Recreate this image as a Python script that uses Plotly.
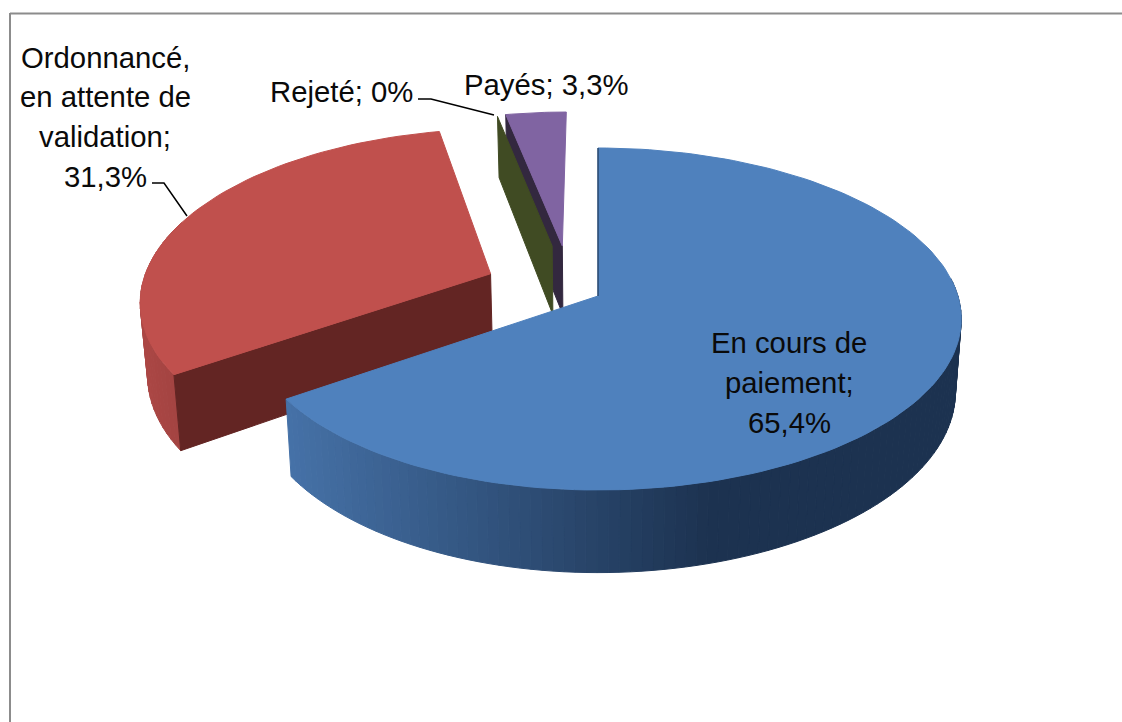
import numpy as np
import plotly.graph_objects as go

# --- data ---
categories = ["En cours de paiement", "Ordonnancé, en attente de validation", "Rejeté", "Payés"]
values = [65.4, 31.3, 0.0, 3.3]
label_lines = [
    ["En cours de", "paiement;", "65,4%"],
    ["Ordonnancé,", "en attente de", "validation;", "31,3%"],
    ["Rejeté; 0%"],
    ["Payés; 3,3%"],
]

# --- styles / layout ---
top_colors = ["#4F81BD", "#C0504D", "#4F6228", "#8064A2"]
explode = {0: (0.0, 0.0, 1.0), 1: (-0.31, -0.135, 1.015), 2: (-0.135, -0.31, 0.96), 3: (-0.105, -0.31, 0.975)}
CX, CY, A, B, KX, KY, QX, DEPTH = 598.0, 296.0, 354.5, 167.9, 0.1345, 0.1345, 0.015, 71.5
FONT = dict(family="Liberation Sans, Arial, sans-serif", size=29.3, color="#0a0a0a")
label_pos = [
    [(789, 342), (789, 382), (789, 422)],
    [(105, 57), (105, 96), (105, 136), (105, 176)],
    [(341, 91)],
    [(546, 84)],
]
leaders = [([152, 164, 187], [183, 183, 216]), ([418, 431, 494], [99, 99, 115])]


def project(u, v, depth=0.0):
    """Perspective projection of a point on the unit pie plane."""
    u, v = np.asarray(u, float), np.asarray(v, float)
    wx = 1 - KX * v - QX * u
    wy = 1 - KY * v
    shrink = 1 - 0.016 * depth
    x = CX + A * u / wx * shrink
    y = CY + B * v / wy + depth * DEPTH / wy
    return x, y


def mix(c1, c2, t):
    t = float(np.clip(t, 0, 1))
    return "rgb(%d,%d,%d)" % tuple(round(a + (b - a) * t) for a, b in zip(c1, c2))


def polygon(fig, x, y, color, lw=1.0):
    fig.add_trace(go.Scatter(x=list(x), y=list(y), mode="lines", fill="toself", fillcolor=color,
                             line=dict(color=color, width=lw), hoverinfo="skip", showlegend=False))


def wall(fig, u1, v1, u2, v2, color):
    x1, y1 = project(u1, v1)
    x2, y2 = project(u2, v2)
    x3, y3 = project(u2, v2, 1)
    x4, y4 = project(u1, v1, 1)
    polygon(fig, [x1, x2, x3, x4, x1], [y1, y2, y3, y4, y1], color)


fracs = np.array(values) / sum(values) * 2 * np.pi
ends = np.cumsum(fracs)
starts = ends - fracs


def arc(i, n):
    du, dv, r = explode[i]
    th = np.linspace(starts[i], ends[i], n)
    return du + r * np.sin(th), dv - r * np.cos(th), du, dv


fig = go.Figure()

# Purple (Payés)
u, v, u0, v0 = arc(3, 12)
wall(fig, u[0], v[0], u0, v0, "#33283F")
x, y = project(np.r_[u0, u, u0], np.r_[v0, v, v0])
polygon(fig, x, y, top_colors[3])

# Green (Rejeté): zero-width slice, only a wall shows
du, dv, r = explode[2]
u_g = du + r * np.sin(starts[2])
v_g = dv - r * np.cos(starts[2])
wall(fig, u_g, v_g, du, dv, "#404B23")

# Red (Ordonnancé)
u, v, u0, v0 = arc(1, 60)
for j in range(len(u) - 1):
    if (u[j] + u[j + 1]) / 2 < 0 and (v[j] + v[j + 1]) / 2 > -0.45:
        t = (project(u[j], v[j])[0] - 130) / 60
        wall(fig, u[j], v[j], u[j + 1], v[j + 1], mix((174, 72, 70), (160, 66, 64), t))
wall(fig, u[0], v[0], u0, v0, "#632523")
x, y = project(np.r_[u0, u, u0], np.r_[v0, v, v0])
polygon(fig, x, y, top_colors[1])

# Blue (En cours de paiement)
u, v, u0, v0 = arc(0, 150)
for j in range(len(u) - 1):
    if (v[j] + v[j + 1]) / 2 > -0.1:
        px = project(u[j], v[j])[0]
        t = (px - 285) / 430
        wall(fig, u[j], v[j], u[j + 1], v[j + 1], mix((70, 114, 168), (28, 50, 80), t))
x, y = project(np.r_[u0, u, u0], np.r_[v0, v, v0])
polygon(fig, x, y, top_colors[0])
# thin dark edge of the blue slice's straight side
x, y = project([u[0], u0], [v[0], v0])
fig.add_trace(go.Scatter(x=x, y=y, mode="lines", line=dict(color="#1F3A5C", width=1.2),
                         hoverinfo="skip", showlegend=False))

# Leader lines
for lx, ly in leaders:
    fig.add_trace(go.Scatter(x=lx, y=ly, mode="lines", line=dict(color="#000000", width=1.5),
                             hoverinfo="skip", showlegend=False))

# Labels
for lines, pos in zip(label_lines, label_pos):
    for text, (px, py) in zip(lines, pos):
        fig.add_annotation(x=px, y=py, text=text, showarrow=False, font=FONT,
                           xanchor="center", yanchor="middle")

# Chart frame
fig.add_shape(type="line", x0=10, x1=1122, y0=13.5, y1=13.5, line=dict(color="#8C8C8C", width=2))
fig.add_shape(type="line", x0=10, x1=10, y0=13, y1=722, line=dict(color="#8C8C8C", width=2))

fig.update_layout(
    width=1122, height=722, margin=dict(l=0, r=0, t=0, b=0),
    paper_bgcolor="white", plot_bgcolor="white", showlegend=False,
    xaxis=dict(range=[0, 1122], visible=False, fixedrange=True),
    yaxis=dict(range=[722, 0], visible=False, fixedrange=True),
)
fig.write_html("out.html", config={"displayModeBar": False},
               post_script="document.body.style.margin='0';document.body.style.overflow='hidden';")
